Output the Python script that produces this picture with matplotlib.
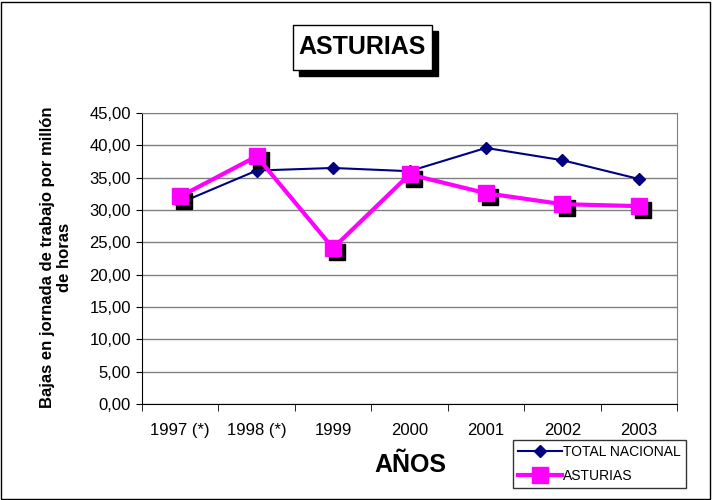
import matplotlib
matplotlib.use('Agg')
import matplotlib.pyplot as plt
import matplotlib.transforms as mtransforms
from matplotlib.patches import Rectangle
import numpy as np

plt.rcParams['font.family'] = ['Liberation Sans', 'DejaVu Sans']

years = ['1997 (*)', '1998 (*)', '1999', '2000', '2001', '2002', '2003']
total_nacional = [31.1, 36.1, 36.5, 36.0, 39.6, 37.7, 34.8]
asturias = [32.1, 38.3, 24.1, 35.5, 32.6, 30.9, 30.6]

fig = plt.figure(figsize=(7.12, 5.0), dpi=100)
ax = fig.add_axes([142 / 712, 1 - 404 / 500, (677 - 142) / 712, (404 - 113) / 500])

x = np.arange(len(years))

# total nacional line
ax.plot(x, total_nacional, color='#000080', lw=1.5, marker='D', ms=6,
        label='TOTAL NACIONAL', zorder=3)

# shadow for the Asturias markers
shadow = mtransforms.offset_copy(ax.transData, fig=fig, x=3, y=-3, units='points')
ax.plot(x, asturias, ls='none', marker='s', ms=11, color='black',
        transform=shadow, zorder=4)
ax.plot(x, asturias, color='#FF00FF', lw=3, marker='s', ms=11,
        label='ASTURIAS', zorder=5)

ax.set_xlim(-0.5, len(years) - 0.5)
ax.set_ylim(0, 45)
ax.set_yticks(np.arange(0, 46, 5))
ax.set_yticklabels([f'{v:.2f}'.replace('.', ',') for v in np.arange(0, 46, 5)], fontsize=12)
ax.set_xticks(x)
ax.set_xticklabels(years, fontsize=12)
ax.set_xticks(np.arange(-0.5, len(years)), minor=True)
ax.tick_params(axis='x', which='major', length=0, pad=14)
ax.tick_params(axis='x', which='minor', length=5, direction='out')
ax.tick_params(axis='y', length=4, direction='out', pad=4)
ax.grid(axis='y', color='#808080', lw=1)
ax.set_axisbelow(True)
for side in ['top', 'right']:
    ax.spines[side].set_color('#808080')
for side in ['left', 'bottom']:
    ax.spines[side].set_color('black')

fig.text(56 / 712, 1 - 257 / 500, 'Bajas en jornada de trabajo por millón\nde horas',
         fontsize=12, fontweight='bold', rotation=90, ha='center', va='center',
         multialignment='center', linespacing=1.1)
fig.text(410 / 712, 1 - 465 / 500, 'AÑOS', fontsize=18, fontweight='bold',
         ha='center', va='center')

# title box with shadow
fig.patches.append(Rectangle((299 / 712, 1 - 76 / 500), 139 / 712, 45 / 500,
                             transform=fig.transFigure, color='black', zorder=1))
fig.patches.append(Rectangle((293 / 712, 1 - 70 / 500), 139 / 712, 45 / 500,
                             transform=fig.transFigure, facecolor='white',
                             edgecolor='black', lw=1, zorder=2))
fig.text(362 / 712, 1 - 47 / 500, 'ASTURIAS', fontsize=18, fontweight='bold',
         ha='center', va='center', zorder=3)

# outer border
fig.patches.append(Rectangle((1 / 712, 1 / 500), 709 / 712, 497 / 500,
                             transform=fig.transFigure, fill=False,
                             edgecolor='black', lw=1))

leg = ax.legend(loc='lower right', bbox_to_anchor=(686 / 712, 1 - 488 / 500),
                bbox_transform=fig.transFigure, fontsize=10, frameon=True,
                fancybox=False, edgecolor='black', borderpad=0.35,
                handlelength=3.2, handletextpad=0.1, labelspacing=0.75,
                borderaxespad=0)
leg.get_frame().set_linewidth(1)

fig.savefig('out.png', dpi=100)
